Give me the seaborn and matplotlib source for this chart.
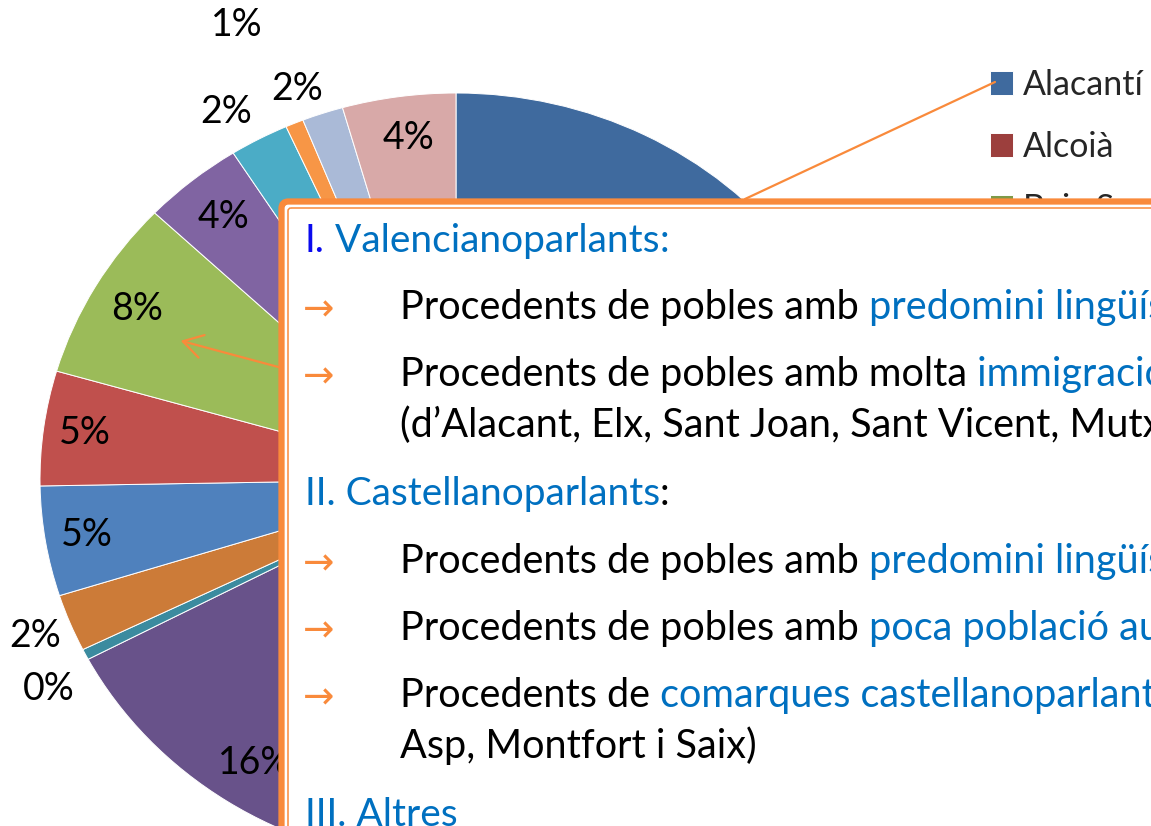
import numpy as np
import matplotlib.pyplot as plt
import seaborn as sns
from matplotlib.patches import FancyBboxPatch

sns.set_theme(style="white")
plt.rcParams['font.family'] = ['Lato', 'DejaVu Sans']

# ─── DADES ──────────────────────────────────────────────────────────────────────
comarques = ["Alacantí", "Alcoià", "Baix Segura", "Baix Vinalopó", "Comtat",
             "Marina Alta", "Marina Baixa", "Alt Vinalopó", "Vinalopó Mitjà",
             "Altres comarques", "Resta del País Valencià", "Múrcia",
             "Resta d'Espanya", "Estranger"]
percentatges = [30.0, 6.3, 15.0, 16.0, 0.45, 2.4, 4.6, 4.8, 7.6,
                3.9, 2.3, 0.7, 1.6, 4.4]
colors = ["#3F6A9E", "#9C3F3D", "#7E9A48", "#68528A", "#3B8B9F", "#CC7B38",
          "#4F81BD", "#C0504D", "#9BBB59", "#8064A2", "#4BACC6", "#F79646",
          "#AABAD7", "#D8A9A8"]
# on va cada etiqueta: distancia radial i petit gir (les petites van fora)
radi_etiqueta = [0.88, 0.88, 0.88, 0.88, 1.12, 1.09, 0.90, 0.90, 0.885,
                 0.88, 1.10, 1.29, 1.08, 0.89]
gir_etiqueta = [0, 0, 0, 0, 2.0, 0, 0, 0, 0,
                0, 1.9, 1.3, 2.0, -0.5]

TARONJA = "#F98A3B"
BLAU = "#0070C0"
BLAU_FORT = "#0A0AEE"

W, H = 1151, 826
fig = plt.figure(figsize=(W / 100, H / 100), dpi=100)

# ─── PASTÍS ─────────────────────────────────────────────────────────────────────
ax = fig.add_axes([0, 0, 1, 1])
wedges, _ = ax.pie(percentatges, colors=sns.color_palette(colors),
                   startangle=90, counterclock=False,
                   wedgeprops=dict(linewidth=0.7, edgecolor="white"))
ax.set_aspect("auto")
cx, cy, rx, ry = 456, 479, 416, 386
ax.set_xlim(-cx / rx, (W - cx) / rx)
ax.set_ylim(-(H - cy) / ry, cy / ry)
ax.axis("off")

total = sum(percentatges)
for w, v, r, g in zip(wedges, percentatges, radi_etiqueta, gir_etiqueta):
    ang = np.deg2rad((w.theta1 + w.theta2) / 2 + g)
    ax.text(r * np.cos(ang), r * np.sin(ang), f"{100 * v / total:.0f}%",
            ha="center", va="center", fontsize=27, color="black")

ax.legend(wedges, comarques, loc="upper left",
          bbox_to_anchor=(990 / W, 1 - 69 / H), bbox_transform=fig.transFigure,
          frameon=False, fontsize=24.5, handlelength=0.68, handleheight=0.68,
          labelspacing=0.88, handletextpad=0.3, borderpad=0, borderaxespad=0)

# ─── QUADRE DE TEXT ─────────────────────────────────────────────────────────────
ov = fig.add_axes([0, 0, 1, 1], zorder=3)
ov.set_xlim(0, W)
ov.set_ylim(H, 0)
ov.axis("off")

ov.plot([745, 995], [199, 82], color=TARONJA, lw=1.6, zorder=1)
ov.annotate("", xy=(178, 340), xytext=(282, 368),
            arrowprops=dict(arrowstyle="->,head_length=0.5,head_width=0.3",
                            color=TARONJA, lw=1.6, mutation_scale=28),
            zorder=1)

ov.add_patch(FancyBboxPatch((281.5, 201.5), 1000, 800,
                            boxstyle="round,pad=0,rounding_size=7",
                            fc="white", ec=TARONJA, lw=4.5, zorder=2))
ov.add_patch(FancyBboxPatch((288, 208), 1000, 800,
                            boxstyle="round,pad=0,rounding_size=3",
                            fc="none", ec=TARONJA, lw=1.1, zorder=3))

linies = [
    (305, 252, 28, False, [("I.", BLAU_FORT), (" Valencianoparlants", BLAU), (":", BLAU)]),
    (400, 319, 28.5, True, [("Procedents de pobles amb", "black"), (" predomini lingüístic valencià", BLAU)]),
    (400, 386, 28.5, True, [("Procedents de pobles amb molta", "black"), (" immigració castellanoparlant", BLAU)]),
    (400, 437, 28.5, False, [("(d’Alacant, Elx, Sant Joan, Sant Vicent, Mutxamel...)", "black")]),
    (305, 505, 28, False, [("II. Castellanoparlants", BLAU), (":", "black")]),
    (400, 573, 28.5, True, [("Procedents de pobles amb", "black"), (" predomini lingüístic castellà", BLAU)]),
    (400, 640, 28.5, True, [("Procedents de pobles amb", "black"), (" poca població autòctona", BLAU)]),
    (400, 707, 28.5, True, [("Procedents de", "black"), (" comarques castellanoparlants", BLAU), (" (Elda, Novelda,", "black")]),
    (400, 758, 28.5, False, [("Asp, Montfort i Saix)", "black")]),
    (305, 826, 28, False, [("III. Altres", BLAU)]),
]

for x, y, mida, fletxa, parts in linies:
    if fletxa:
        ov.text(303, y + 1, "→", color=TARONJA, fontsize=27, va="baseline",
                ha="left", family=["DejaVu Sans"], zorder=4)
    t = ov.text(x, y, parts[0][0], color=parts[0][1], fontsize=mida,
                va="baseline", ha="left", zorder=4)
    for txt, col in parts[1:]:
        t = ov.annotate(txt, xy=(1, 0), xycoords=t, va="bottom", ha="left",
                        color=col, fontsize=mida, zorder=4)

fig.savefig("out.png", dpi=100)
